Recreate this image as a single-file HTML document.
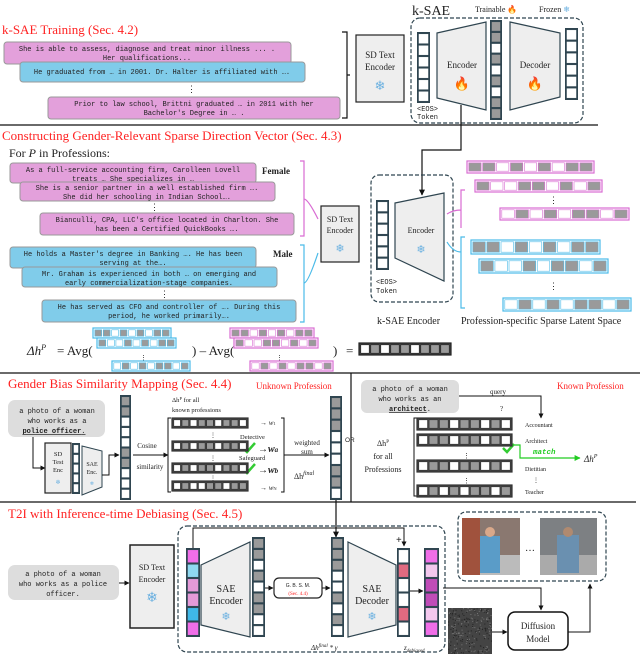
<!DOCTYPE html>
<html><head><meta charset="utf-8"><style>
html,body{margin:0;padding:0;background:#fff;}
svg{display:block;}
.r{font-family:"Liberation Serif",serif;fill:#f22;}
.s{font-family:"Liberation Serif",serif;fill:#222;}
.m{font-family:"Liberation Mono",monospace;fill:#222;font-size:7px;}
</style></head><body>
<svg id="sv" width="640" height="654" viewBox="0 0 640 654" xmlns="http://www.w3.org/2000/svg">
<defs>
<marker id="ar" viewBox="0 0 10 10" refX="9" refY="5" markerWidth="5" markerHeight="5" orient="auto"><path d="M0,0L10,5L0,10z" fill="#111"/></marker>
<marker id="ag" viewBox="0 0 10 10" refX="9" refY="5" markerWidth="5" markerHeight="5" orient="auto"><path d="M0,0L10,5L0,10z" fill="#2c2"/></marker>
</defs>
<!-- Section 1 -->
<text class="r" x="2" y="34" font-size="13">k-SAE Training (Sec. 4.2)</text>
<rect x="4" y="42" width="287" height="22" rx="3" fill="#e3a0db" stroke="#999"/>
<text class="m" x="147" y="51" text-anchor="middle">She is able to assess, diagnose and treat minor illness ... .</text>
<text class="m" x="147" y="60" text-anchor="middle">Her qualifications...</text>
<rect x="20" y="62" width="285" height="20" rx="3" fill="#80ccea" stroke="#999"/>
<text class="m" x="162" y="74" text-anchor="middle">He graduated from … in 2001. Dr. Halter is affiliated with ….</text>
<text class="s" x="187" y="92" font-size="9">⋮</text>
<rect x="48" y="97" width="292" height="22" rx="3" fill="#e3a0db" stroke="#999"/>
<text class="m" x="194" y="106" text-anchor="middle">Prior to law school, Brittni graduated … in 2011 with her</text>
<text class="m" x="194" y="115" text-anchor="middle">Bachelor's Degree in … .</text>
<path d="M342,32 h5 v86 h-5 M347,75 h3" fill="none" stroke="#111" stroke-width="1.2"/>
<rect x="356" y="35" width="48" height="67" fill="#eee" stroke="#222" stroke-width="1.2"/>
<text class="s" x="380" y="58" font-size="9" text-anchor="middle">SD Text</text>
<text class="s" x="380" y="70" font-size="9" text-anchor="middle">Encoder</text>
<text x="380" y="90" font-size="13" text-anchor="middle" fill="#6ab0e0">❄</text>
<text class="s" x="412" y="15" font-size="14">k-SAE</text>
<text class="s" x="475" y="12" font-size="8">Trainable <tspan fill="#f60">🔥</tspan></text>
<text class="s" x="539" y="12" font-size="8">Frozen <tspan fill="#6ab0e0">❄</tspan></text>
<rect x="411" y="18" width="172" height="105" rx="9" fill="none" stroke="#2f4550" stroke-width="1.2" stroke-dasharray="4,2"/>
<path d="M437,33 L486,22 L486,110 L437,98z" fill="#eee" stroke="#2f4550" stroke-width="1.2"/>
<text class="s" x="462" y="68" font-size="9" text-anchor="middle">Encoder</text>
<text x="462" y="88" font-size="13" text-anchor="middle">🔥</text>
<path d="M510,22 L560,33 L560,97 L510,110z" fill="#eee" stroke="#2f4550" stroke-width="1.2"/>
<text class="s" x="535" y="68" font-size="9" text-anchor="middle">Decoder</text>
<text x="535" y="88" font-size="13" text-anchor="middle">🔥</text>
<text class="m" x="417" y="111" font-size="5.5">&lt;EOS&gt;</text>
<text class="m" x="417" y="119" font-size="5.5">Token</text>
<line x1="0" y1="125" x2="598" y2="125" stroke="#111" stroke-width="1.2"/>
<path d="M461,105 V150 H422 V195" fill="none" stroke="#111" stroke-width="1.2" marker-end="url(#ar)"/>
<!-- Section 2 -->
<text class="r" x="2" y="140" font-size="13">Constructing Gender-Relevant Sparse Direction Vector (Sec. 4.3)</text>
<text class="s" x="9" y="157" font-size="12">For <tspan font-style="italic">P</tspan> in Professions:</text>
<rect x="10" y="163" width="246" height="20" rx="3" fill="#e3a0db" stroke="#999"/>
<text class="m" x="133" y="172" text-anchor="middle">As a full-service accounting firm, Carolleen Lovell</text>
<text class="m" x="133" y="181" text-anchor="middle">treats … She specializes in …</text>
<rect x="20" y="182" width="255" height="19" rx="3" fill="#e3a0db" stroke="#999"/>
<text class="m" x="147" y="190" text-anchor="middle">She is a senior partner in a well established firm ….</text>
<text class="m" x="147" y="199" text-anchor="middle">She did her schooling in Indian School….</text>
<text class="s" x="150" y="210" font-size="9">⋮</text>
<rect x="40" y="213" width="254" height="22" rx="3" fill="#e3a0db" stroke="#999"/>
<text class="m" x="167" y="222" text-anchor="middle">Bianculli, CPA, LLC's office located in Charlton. She</text>
<text class="m" x="167" y="231" text-anchor="middle">has been a Certified QuickBooks ….</text>
<text class="s" x="262" y="174" font-size="9" font-weight="bold">Female</text>
<rect x="10" y="247" width="246" height="21" rx="3" fill="#80ccea" stroke="#999"/>
<text class="m" x="133" y="256" text-anchor="middle">He holds a Master's degree in Banking …. He has been</text>
<text class="m" x="133" y="265" text-anchor="middle">serving at the….</text>
<rect x="22" y="267" width="255" height="20" rx="3" fill="#80ccea" stroke="#999"/>
<text class="m" x="149" y="276" text-anchor="middle">Mr. Graham is experienced in both … on emerging and</text>
<text class="m" x="149" y="285" text-anchor="middle">early commercialization-stage companies.</text>
<text class="s" x="160" y="297" font-size="9">⋮</text>
<rect x="42" y="300" width="254" height="22" rx="3" fill="#80ccea" stroke="#999"/>
<text class="m" x="169" y="309" text-anchor="middle">He has served as CFO and controller of …. During this</text>
<text class="m" x="169" y="318" text-anchor="middle">period, he worked primarily….</text>
<text class="s" x="273" y="257" font-size="9" font-weight="bold">Male</text>
<path d="M300,161 h4 v75 h-4 M304,199 q4,0 14,20" fill="none" stroke="#d96cd3" stroke-width="1.2"/>
<path d="M300,245 h4 v77 h-4 M304,283 q4,0 14,-30" fill="none" stroke="#4bbbe8" stroke-width="1.2"/>
<rect x="321" y="206" width="38" height="56" fill="#eee" stroke="#222" stroke-width="1.2"/>
<text class="s" x="340" y="222" font-size="8" text-anchor="middle">SD Text</text>
<text class="s" x="340" y="233" font-size="8" text-anchor="middle">Encoder</text>
<text x="340" y="252" font-size="11" text-anchor="middle" fill="#6ab0e0">❄</text>
<rect x="371" y="175" width="82" height="127" rx="8" fill="none" stroke="#2f4550" stroke-width="1.2" stroke-dasharray="4,2"/>
<path d="M395,203 L444,193 L444,281 L395,258z" fill="#eee" stroke="#2f4550" stroke-width="1.2"/>
<text class="s" x="421" y="233" font-size="8" text-anchor="middle">Encoder</text>
<text x="421" y="253" font-size="11" text-anchor="middle" fill="#6ab0e0">❄</text>
<text class="m" x="376" y="284" font-size="6">&lt;EOS&gt;</text>
<text class="m" x="376" y="293" font-size="6">Token</text>
<text class="s" x="377" y="324" font-size="10">k-SAE Encoder</text>
<text class="s" x="461" y="324" font-size="10">Profession-specific Sparse Latent Space</text>
<path d="M465,190 h-4 v38 M461,210 q-8,0 -14,4" fill="none" stroke="#d96cd3" stroke-width="1.2"/>
<path d="M465,237 h-4 v71 h4 M461,252 q-8,0 -14,-10" fill="none" stroke="#4bbbe8" stroke-width="1.2"/>
<text class="s" x="549" y="203" font-size="9">⋮</text>
<text class="s" x="549" y="289" font-size="9">⋮</text>
<text class="s" x="27" y="355" font-size="13" font-style="italic">Δh<tspan font-size="8" dy="-5">P</tspan></text>
<text class="s" x="57" y="355" font-size="13">=  Avg(</text>
<text class="s" x="140" y="360" font-size="7">⋮</text>
<text class="s" x="192" y="355" font-size="13">) – Avg(</text>
<text class="s" x="276" y="360" font-size="7">⋮</text>
<text class="s" x="333" y="355" font-size="13">)</text>
<text class="s" x="346" y="355" font-size="13" fill="#888">=</text>
<line x1="0" y1="373" x2="640" y2="373" stroke="#111" stroke-width="1.2"/>
<line x1="351" y1="373" x2="351" y2="502" stroke="#111" stroke-width="1.2"/>
<!-- Section 3 -->
<text class="r" x="8" y="388" font-size="13">Gender Bias Similarity Mapping (Sec. 4.4)</text>
<text class="r" x="256" y="389" font-size="9">Unknown Profession</text>
<text class="r" x="557" y="389" font-size="9">Known Profession</text>
<rect x="8" y="400" width="97" height="37" rx="7" fill="#ddd"/>
<text class="m" x="57" y="413" text-anchor="middle">a photo of a woman</text>
<text class="m" x="57" y="423" text-anchor="middle">who works as a</text>
<text class="m" x="54" y="433" text-anchor="middle" font-weight="bold" text-decoration="underline">police officer<tspan font-weight="normal">.</tspan></text>
<path d="M33,437 V468 H45" fill="none" stroke="#111" marker-end="url(#ar)"/>
<rect x="45" y="443" width="26" height="50" fill="#eee" stroke="#222" stroke-width="1.2"/>
<text class="s" x="58" y="456" font-size="6.5" text-anchor="middle">SD</text>
<text class="s" x="58" y="464" font-size="6.5" text-anchor="middle">Test</text>
<text class="s" x="58" y="472" font-size="6.5" text-anchor="middle">Enc</text>
<text x="58" y="484" font-size="6" text-anchor="middle" fill="#6ab0e0">❄</text>
<path d="M82,446 L102,451 L102,487 L82,495z" fill="#eee" stroke="#2f4550"/>
<text class="s" x="92" y="466" font-size="6" text-anchor="middle">SAE</text>
<text class="s" x="92" y="474" font-size="6" text-anchor="middle">Enc.</text>
<text x="92" y="485" font-size="5" text-anchor="middle" fill="#6ab0e0">❄</text>
<path d="M102,475 H109 V455 H119" fill="none" stroke="#111" marker-end="url(#ar)"/>
<text class="s" x="147" y="448" font-size="7" text-anchor="middle">Cosine</text>
<text class="s" x="150" y="469" font-size="7" text-anchor="middle">similarity</text>
<line x1="133" y1="455" x2="168" y2="455" stroke="#111" marker-end="url(#ar)"/>
<text class="s" x="172" y="402" font-size="6.5">Δh<tspan font-size="4.5" dy="-2">P</tspan><tspan dy="2"> for all</tspan></text>
<text class="s" x="172" y="412" font-size="6.5">known professions</text>
<path d="M171,418 h-3 v74 h3" fill="none" stroke="#111"/>
<path d="M281,418 h3 v74 h-3 M284,455 H329" fill="none" stroke="#111" marker-end="url(#ar)"/>
<text class="s" x="210" y="437" font-size="6">⋮</text>
<text class="s" x="210" y="460" font-size="6">⋮</text>
<text class="s" x="210" y="480" font-size="6">⋮</text>
<text class="s" x="240" y="439" font-size="6.5" fill="#999">Detective</text>
<text class="s" x="239" y="460" font-size="6.5" fill="#999">Safeguard</text>
<path d="M243,448 l4,4 l8,-9 M243,469 l4,4 l8,-9" fill="none" stroke="#3c3" stroke-width="2.5"/>
<text class="s" x="260" y="425" font-size="7">→ <tspan font-style="italic">w</tspan><tspan font-size="4.5">1</tspan></text>
<text class="s" x="258" y="452" font-size="10" font-weight="bold">→<tspan font-style="italic">w<tspan font-size="7">a</tspan></tspan></text>
<text class="s" x="258" y="473" font-size="10" font-weight="bold">→<tspan font-style="italic">w<tspan font-size="7">b</tspan></tspan></text>
<text class="s" x="260" y="490" font-size="7">→ <tspan font-style="italic">w</tspan><tspan font-size="4.5">N</tspan></text>
<text class="s" x="307" y="445" font-size="7" text-anchor="middle">weighted</text>
<text class="s" x="307" y="454" font-size="7" text-anchor="middle">sum</text>
<text class="s" x="294" y="479" font-size="8">Δh<tspan font-size="6" dy="-4" font-style="italic">final</tspan></text>
<text x="345" y="442" font-size="6.5" font-family="Liberation Sans" fill="#222">OR</text>
<rect x="361" y="380" width="98" height="33" rx="6" fill="#ddd"/>
<text class="m" x="410" y="391" text-anchor="middle">a photo of a woman</text>
<text class="m" x="410" y="401" text-anchor="middle">who works as an</text>
<text class="m" x="410" y="411" text-anchor="middle"><tspan font-weight="bold" text-decoration="underline">architect</tspan>.</text>
<path d="M459,396 H541 V418" fill="none" stroke="#111" marker-end="url(#ar)"/>
<text class="s" x="490" y="394" font-size="7">query</text>
<text class="s" x="500" y="411" font-size="7">?</text>
<text class="s" x="383" y="446" font-size="8" text-anchor="middle">Δh<tspan font-size="5" dy="-3">P</tspan></text>
<text class="s" x="383" y="459" font-size="8" text-anchor="middle">for all</text>
<text class="s" x="383" y="472" font-size="8" text-anchor="middle">Professions</text>
<path d="M417,418 h-3 v78 h3" fill="none" stroke="#111"/>
<text class="s" x="463" y="458" font-size="7">⋮</text>
<text class="s" x="463" y="483" font-size="7">⋮</text>
<text class="s" x="525" y="427" font-size="6" fill="#aaa">Accountant</text>
<text class="s" x="525" y="443" font-size="6" fill="#aaa">Architect</text>
<text class="s" x="525" y="471" font-size="6" fill="#aaa">Dietitian</text>
<text class="s" x="533" y="482" font-size="6" fill="#aaa">⋮</text>
<text class="s" x="525" y="494" font-size="6" fill="#aaa">Teacher</text>
<path d="M503,448 l4,4 l7,-8" fill="none" stroke="#3c3" stroke-width="2.5"/>
<path d="M514,445 h6 v13 H580" fill="none" stroke="#2c2" stroke-width="1.2" marker-end="url(#ag)"/>
<text x="533" y="454" font-size="7.5" font-family="Liberation Mono" font-weight="bold" font-style="italic" fill="#2c2">match</text>
<text class="s" x="584" y="462" font-size="9" font-style="italic">Δh<tspan font-size="6" dy="-4">P</tspan></text>
<line x1="336" y1="498" x2="336" y2="537" stroke="#111" stroke-width="1.2" marker-end="url(#ar)"/>
<line x1="0" y1="502" x2="636" y2="502" stroke="#111" stroke-width="1.2"/>
<!-- Section 4 -->
<text class="r" x="8" y="518" font-size="13">T2I with Inference-time Debiasing (Sec. 4.5)</text>
<rect x="8" y="565" width="111" height="35" rx="7" fill="#ddd"/>
<text class="m" x="63" y="576" text-anchor="middle">a photo of a woman</text>
<text class="m" x="63" y="586" text-anchor="middle">who works as a police</text>
<text class="m" x="63" y="596" text-anchor="middle">officer.</text>
<line x1="119" y1="583" x2="129" y2="583" stroke="#111" marker-end="url(#ar)"/>
<rect x="130" y="545" width="44" height="83" fill="#eee" stroke="#222" stroke-width="1.5"/>
<text class="s" x="152" y="570" font-size="8" text-anchor="middle">SD Text</text>
<text class="s" x="152" y="582" font-size="8" text-anchor="middle">Encoder</text>
<text x="152" y="602" font-size="14" text-anchor="middle" fill="#6ab0e0">❄</text>
<rect x="178" y="526" width="267" height="126" rx="9" fill="none" stroke="#2f4550" stroke-width="1.2" stroke-dasharray="4,2"/>
<path d="M193,548 V528 H404 V546" fill="none" stroke="#111" marker-end="url(#ar)"/>
<text class="s" x="396" y="543" font-size="10" font-weight="bold">+</text>
<path d="M201,565 L250,542 L250,637 L201,625z" fill="#eee" stroke="#2f4550" stroke-width="1.2"/>
<text class="s" x="226" y="592" font-size="10" text-anchor="middle">SAE</text>
<text class="s" x="226" y="604" font-size="10" text-anchor="middle">Encoder</text>
<text x="226" y="620" font-size="11" text-anchor="middle" fill="#6ab0e0">❄</text>
<line x1="265" y1="588" x2="273" y2="588" stroke="#111" marker-end="url(#ar)"/>
<rect x="274" y="578" width="48" height="20" rx="5" fill="#fff" stroke="#222" stroke-width="1.2"/>
<text x="298" y="587" font-size="5" text-anchor="middle" font-family="Liberation Sans" fill="#222">G. B. S. M.</text>
<text x="298" y="595" font-size="5" text-anchor="middle" font-family="Liberation Serif" fill="#f22">(Sec. 4.4)</text>
<line x1="322" y1="588" x2="330" y2="588" stroke="#111" marker-end="url(#ar)"/>
<path d="M348,542 L396,565 L396,625 L348,637z" fill="#eee" stroke="#2f4550" stroke-width="1.2"/>
<text class="s" x="372" y="592" font-size="10" text-anchor="middle">SAE</text>
<text class="s" x="372" y="604" font-size="10" text-anchor="middle">Decoder</text>
<text x="372" y="620" font-size="11" text-anchor="middle" fill="#6ab0e0">❄</text>
<line x1="410" y1="591" x2="423" y2="591" stroke="#111" marker-end="url(#ar)"/>
<text class="s" x="311" y="650" font-size="7" font-style="italic">Δh<tspan font-size="5" dy="-3">final</tspan><tspan dy="3"> * γ</tspan></text>
<text class="s" x="404" y="650" font-size="7" font-style="italic">z<tspan font-size="5" dy="2">debiased</tspan></text>
<rect x="458" y="512" width="148" height="69" rx="8" fill="none" stroke="#2f4550" stroke-width="1.2" stroke-dasharray="4,2"/>
<rect x="462" y="518" width="58" height="57" fill="#8a7870"/>
<rect x="462" y="518" width="18" height="57" fill="#a0523d"/>
<rect x="480" y="555" width="40" height="20" fill="#bbb"/>
<rect x="480" y="536" width="20" height="37" fill="#5a9cc8"/>
<circle cx="490" cy="532" r="5" fill="#d9a88a"/>
<text class="s" x="525" y="551" font-size="10">…</text>
<rect x="540" y="518" width="57" height="57" fill="#7d8083"/>
<rect x="540" y="555" width="57" height="20" fill="#aaa"/>
<rect x="557" y="535" width="22" height="38" fill="#6a90b0"/>
<circle cx="568" cy="532" r="5" fill="#b08a70"/>
<path d="M443,588 H541 V610" fill="none" stroke="#111" marker-end="url(#ar)"/>
<rect x="448" y="608" width="44" height="46" fill="#444"/>
<line x1="492" y1="632" x2="507" y2="632" stroke="#111" marker-end="url(#ar)"/>
<rect x="508" y="612" width="60" height="38" rx="7" fill="#fff" stroke="#111" stroke-width="1.5"/>
<text class="s" x="538" y="629" font-size="9" text-anchor="middle">Diffusion</text>
<text class="s" x="538" y="642" font-size="9" text-anchor="middle">Model</text>
<path d="M568,632 H590 V584" fill="none" stroke="#111" marker-end="url(#ar)"/>
<g id="dyn"></g>
</svg>
<script>
var g=document.getElementById('dyn'),NS='http://www.w3.org/2000/svg';
function R(x,y,w,h,f,s,sw){var e=document.createElementNS(NS,'rect');e.setAttribute('x',x);e.setAttribute('y',y);e.setAttribute('width',w);e.setAttribute('height',h);e.setAttribute('fill',f);if(s){e.setAttribute('stroke',s);e.setAttribute('stroke-width',sw||1);}g.appendChild(e);}
var C={g:'#9a9a9a',w:'#fff',m:'#f06ee8',b:'#8fd8f0',p:'#e49ad8',B:'#3fb8e8',r:'#e06a80',l:'#f3c8ee',u:'#c04cb8'};
function row(x,y,w,h,bd,pat,fill){R(x,y,w,h,fill||'#fff',bd,1.2);var n=pat.length,cw=(w-2)/n;for(var i=0;i<n;i++)R(x+1+i*cw+0.8,y+1.8,cw-1.6,h-3.6,C[pat[i]],bd,0.6);}
function col(x,y,w,h,pat){R(x,y,w,h,'#2f4550');var n=pat.length,ch=(h-2)/n;for(var i=0;i<n;i++)R(x+1.5,y+1+i*ch+0.8,w-3,ch-1.6,C[pat[i]],'#2f4550',0.5);}
col(417,32,13,71,'wwwwww');col(490,20,12,100,'ggwgwgwgg');col(565,28,13,72,'wwwwww');
col(376,200,13,70,'wwwwww');
var P='#d96cd3',Bl='#4bbbe8';
row(467,161,127,12,P,'ggwgwgwgg');row(475,180,127,12,P,'gwwggwgwg');row(500,208,129,12,P,'wgwgwggwg');
row(471,240,129,14,Bl,'ggwgwgwgg');row(479,259,129,14,Bl,'gwwgwggwg');row(503,298,128,13,Bl,'wgwgwggwg');
row(93,328,78,10,Bl,'ggwgwgwgg');row(97,338,79,10,Bl,'gwwgwgwgg');row(112,361,78,10,Bl,'wgwgwggwg');
row(230,328,84,10,P,'ggwgwgwgg');row(234,338,84,10,P,'gwwggwgwg');row(250,361,83,10,P,'wgwgwggwg');
row(359,343,92,12,'#222','wgwggwggg','#444');
col(72,443,8,51,'wwwww');col(120,395,11,105,'ggwwwggwww');
var D='#333';
row(172,418,76,10,D,'wgwggwggw','#444');row(172,441,76,10,D,'wgwggwggw','#444');row(172,463,76,10,D,'wgwggwggw','#444');row(172,481,76,10,D,'wgwwggwgg','#444');
col(330,396,12,104,'gggwwwggw');
row(417,418,95,12,D,'wggwggwgw','#444');row(417,434,95,12,D,'wggwggwgw','#444');row(417,460,95,12,D,'wggwggwgw','#444');row(417,485,95,12,D,'wgwgwggwg','#444');
col(186,548,14,89,'mbppBm');col(252,537,13,100,'ggwgwggww');col(331,537,13,100,'gggwwgwgw');
col(397,548,13,89,'wrwwrw');col(424,548,15,89,'mluulm');
for(var i=0;i<250;i++){R(448+Math.random()*43,608+Math.random()*45,1,1,Math.random()<.5?'#777':'#222');}
</script>
</body></html>
